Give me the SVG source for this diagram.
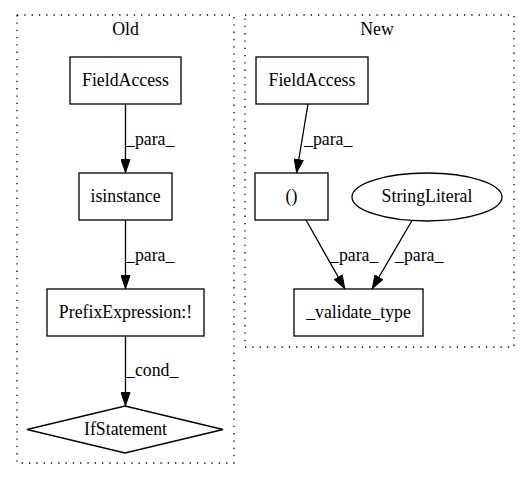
<svg xmlns="http://www.w3.org/2000/svg" width="528" height="480" viewBox="0 0 528 480">
<style>
text{font-family:"Liberation Serif","Times New Roman",serif;font-size:17.8px;fill:#000}
.n{text-anchor:middle}
.node{fill:none;stroke:#000;stroke-width:1.3}
.cluster{fill:none;stroke:#000;stroke-width:1.3;stroke-dasharray:1.3,6}
.edge{fill:none;stroke:#000;stroke-width:1.3;marker-end:url(#arr)}
</style>
<defs>
<marker id="arr" viewBox="0 0 14 10" refX="14" refY="5" markerWidth="14" markerHeight="10" markerUnits="userSpaceOnUse" orient="auto">
<path d="M0.5,0.5 L13.5,5 L0.5,9.5 z" fill="#000" stroke="#000" stroke-width="1"/>
</marker>
</defs>
<rect width="528" height="480" fill="#fff"/>
<g id="cluster_old">
<rect class="cluster" x="17" y="15" width="217" height="448"/>
<text class="n" x="125.5" y="35">Old</text>
</g>
<g id="cluster_new">
<rect class="cluster" x="245" y="15" width="269" height="332"/>
<text class="n" x="377" y="35">New</text>
</g>
<g id="old_fieldaccess">
<rect class="node" x="70" y="57" width="111" height="47"/>
<text class="n" x="125.5" y="86">FieldAccess</text>
</g>
<g id="old_isinstance">
<rect class="node" x="79" y="173" width="93" height="47"/>
<text class="n" x="125.5" y="202">isinstance</text>
</g>
<g id="old_prefix">
<rect class="node" x="47" y="289" width="157" height="47"/>
<text class="n" x="125.5" y="318">PrefixExpression:!</text>
</g>
<g id="old_if">
<polygon class="node" points="125,406 223,429.5 125,453 27,429.5"/>
<text class="n" x="125.5" y="435">IfStatement</text>
</g>
<g id="new_fieldaccess">
<rect class="node" x="256" y="57" width="112" height="47"/>
<text class="n" x="312" y="86">FieldAccess</text>
</g>
<g id="new_paren">
<rect class="node" x="255" y="173" width="73" height="47"/>
<text class="n" x="291.5" y="202">()</text>
</g>
<g id="new_stringliteral">
<ellipse class="node" cx="427" cy="197" rx="75" ry="24"/>
<text class="n" x="427" y="202">StringLiteral</text>
</g>
<g id="new_validate">
<rect class="node" x="294" y="289" width="129" height="47"/>
<text class="n" x="358.5" y="318">_validate_type</text>
</g>
<g id="edges">
<path class="edge" d="M125.5,104 L125.5,173"/>
<text x="126" y="145">_para_</text>
<path class="edge" d="M125.5,220 L125.5,289"/>
<text x="126" y="261">_para_</text>
<path class="edge" d="M125.5,336 L125.5,406"/>
<text x="126" y="376">_cond_</text>
<path class="edge" d="M308,104 L296.5,173"/>
<text x="304" y="145">_para_</text>
<path class="edge" d="M306,220 L345,289"/>
<text x="330" y="261">_para_</text>
<path class="edge" d="M412,220.5 L372,289"/>
<text x="395" y="261">_para_</text>
</g>
</svg>
